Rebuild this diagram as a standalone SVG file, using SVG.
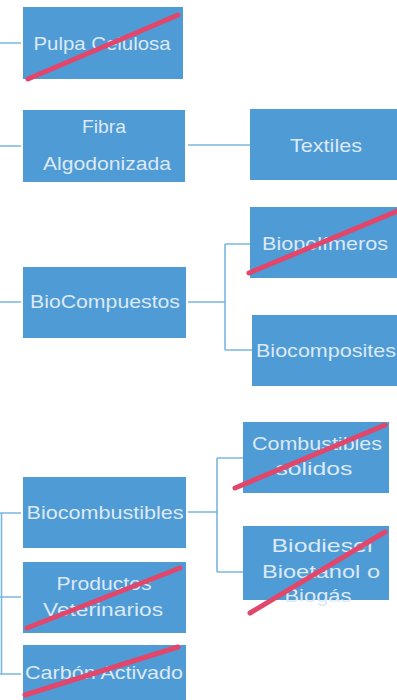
<svg xmlns="http://www.w3.org/2000/svg" width="397" height="700" viewBox="0 0 397 700">
<style>
.box{fill:#4f9bd6}
.t{font-family:"Liberation Sans",Arial,sans-serif;font-size:19px;fill:#dde9f5;text-anchor:middle}
.c{stroke:#7ab6df;stroke-width:1.6;fill:none}
.x{stroke:#e2466a;stroke-width:5;stroke-linecap:round}
</style>
<rect width="397" height="700" fill="#ffffff"/>
<g id="connectors">
<path class="c" d="M1.5,513 V674"/>
<path class="c" d="M0,43 H21 M0,146 H21 M0,302 H21 M0,513 H21 M0,597 H21 M0,674 H21"/>
<path class="c" d="M188,145 H250"/>
<path class="c" d="M188,302 H225 M225,244 V350 M225,244 H250 M225,350 H252"/>
<path class="c" d="M188,512 H217 M217,458 V572 M217,458 H243 M217,572 H243"/>
</g>
<g id="pulpa">
<rect class="box" x="23" y="7" width="160" height="72"/>
<text class="t" x="102" y="50" textLength="137" lengthAdjust="spacingAndGlyphs">Pulpa Celulosa</text>
<line class="x" x1="28" y1="79" x2="178" y2="15"/>
</g>
<g id="fibra">
<rect class="box" x="23" y="110" width="162" height="72"/>
<text class="t" x="104" y="133" textLength="44" lengthAdjust="spacingAndGlyphs">Fibra</text>
<text class="t" x="107" y="170" textLength="128" lengthAdjust="spacingAndGlyphs">Algodonizada</text>
</g>
<g id="textiles">
<rect class="box" x="250" y="109" width="150" height="71"/>
<text class="t" x="326" y="152" textLength="72" lengthAdjust="spacingAndGlyphs">Textiles</text>
</g>
<g id="biocompuestos">
<rect class="box" x="23" y="267" width="163" height="71"/>
<text class="t" x="105" y="308" textLength="150" lengthAdjust="spacingAndGlyphs">BioCompuestos</text>
</g>
<g id="biopolimeros">
<rect class="box" x="250" y="207" width="150" height="71"/>
<text class="t" x="325" y="250" textLength="126" lengthAdjust="spacingAndGlyphs">Biopolímeros</text>
<line class="x" x1="249" y1="273" x2="400" y2="210"/>
</g>
<g id="biocomposites">
<rect class="box" x="252" y="315" width="148" height="71"/>
<text class="t" x="326" y="357" textLength="140" lengthAdjust="spacingAndGlyphs">Biocomposites</text>
</g>
<g id="biocombustibles">
<rect class="box" x="23" y="477" width="163" height="71"/>
<text class="t" x="105" y="519" textLength="157" lengthAdjust="spacingAndGlyphs">Biocombustibles</text>
</g>
<g id="combustibles">
<rect class="box" x="243" y="422" width="146" height="71"/>
<text class="t" x="317" y="450" textLength="130" lengthAdjust="spacingAndGlyphs">Combustibles</text>
<text class="t" x="314" y="475" textLength="77" lengthAdjust="spacingAndGlyphs">solidos</text>
<line class="x" x1="235" y1="488" x2="385" y2="425"/>
</g>
<g id="biodiesel">
<rect class="box" x="243" y="526" width="146" height="74"/>
<text class="t" x="322" y="552" textLength="101" lengthAdjust="spacingAndGlyphs">Biodiesel</text>
<text class="t" x="321" y="578" textLength="118" lengthAdjust="spacingAndGlyphs">Bioetanol o</text>
<text class="t" x="318" y="602" textLength="67" lengthAdjust="spacingAndGlyphs">Biogás</text>
<line class="x" x1="250" y1="613" x2="385" y2="532"/>
</g>
<g id="productos">
<rect class="box" x="23" y="562" width="163" height="71"/>
<text class="t" x="104" y="590" textLength="95" lengthAdjust="spacingAndGlyphs">Productos</text>
<text class="t" x="103" y="616" textLength="120" lengthAdjust="spacingAndGlyphs">Veterinarios</text>
<line class="x" x1="27" y1="628" x2="180" y2="568"/>
</g>
<g id="carbon">
<rect class="box" x="23" y="645" width="163" height="60"/>
<text class="t" x="104" y="679" textLength="158" lengthAdjust="spacingAndGlyphs">Carbón Activado</text>
<line class="x" x1="25" y1="695" x2="178" y2="647"/>
</g>
</svg>
